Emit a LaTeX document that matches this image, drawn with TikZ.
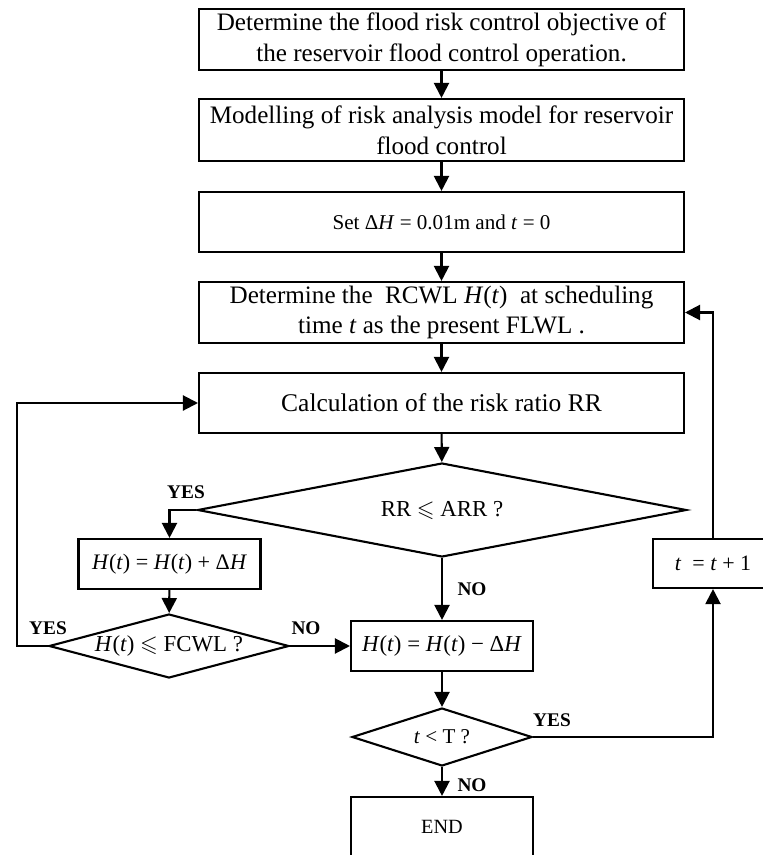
\documentclass[tikz,border=0pt]{standalone}
\usepackage{amsmath,amssymb}
\usepackage{fontspec}
\setmainfont{Liberation Serif}
\usetikzlibrary{shapes.geometric, positioning, arrows.meta, calc}

\begin{document}
\begin{tikzpicture}[
    x=0.02cm, y=-0.02cm,
    line width=1.2pt,
    process/.style={draw, rectangle, minimum width=9.7cm, minimum height=1.2cm, align=center, fill=white, inner sep=2pt, font=\fontsize{14.3}{17.5}\selectfont},
    smallbox/.style={draw, rectangle, minimum width=3.64cm, minimum height=1cm, align=center, fill=white, font=\fontsize{13}{16}\selectfont},
    decision/.style={draw, diamond, inner sep=0pt, align=center, fill=white, font=\fontsize{13}{16}\selectfont},
    arr/.style={-{Triangle[length=0.3cm, width=0.3cm]}},
    answer/.style={font=\fontsize{11}{13}\selectfont\bfseries}
]
    \useasboundingbox (0,0) rectangle (763,855);
    \clip (0,0) rectangle (763,855);

    % --- Main column ---
    \node[process, minimum height=1.18cm] (obj) at (441.5, 39.5) {Determine the flood risk control objective of\\the reservoir flood control operation.};
    \node[process, minimum height=1.24cm] (model) at (441.5, 130) {Modelling of risk analysis model for reservoir\\flood control};
    \node[process, font=\fontsize{12}{14}\selectfont] (setdh) at (441.5, 222) {Set Δ\textit{H} = 0.01m and \textit{t} = 0};
    \node[process, minimum height=1.22cm] (rcwl) at (441.5, 312.5) {Determine the\ \ RCWL \textit{H}(\textit{t})\ \ at scheduling\\time \textit{t} as the present FLWL .};
    \node[process, font=\fontsize{14.5}{17}\selectfont] (calc) at (441.5, 403) {Calculation of the risk ratio RR};

    % --- Decisions ---
    \node[decision, aspect=5.2, minimum width=9.78cm, minimum height=1.88cm] (rrdec) at (442, 510) {RR $\leqslant$ ARR ?};
    \node[decision, aspect=3.75, minimum width=4.8cm, minimum height=1.28cm] (fcwl) at (169, 646) {\textit{H}(\textit{t}) $\leqslant$ FCWL ?};
    \node[decision, aspect=3.1, minimum width=3.6cm, minimum height=1.16cm, font=\fontsize{12}{14}\selectfont] (tdec) at (442, 737) {\textit{t} < T ?};

    % --- Update boxes ---
    \node[smallbox, font=\fontsize{12.6}{15}\selectfont] (plus) at (169.5, 564) {\textit{H}(\textit{t}) = \textit{H}(\textit{t}) + Δ\textit{H}};
    \node[smallbox] (minus) at (442, 646) {\textit{H}(\textit{t}) = \textit{H}(\textit{t}) − Δ\textit{H}};
    \node[smallbox, minimum width=2.4cm, minimum height=0.98cm, font=\fontsize{12.5}{15}\selectfont] (inc) at (713, 563.5) {\textit{t}\ \ = \textit{t} + 1};
    \node[smallbox, minimum height=1.2cm, font=\fontsize{11.5}{14}\selectfont] (endbox) at (442, 827) {END};

    % --- Connections ---
    \draw[arr] (obj) -- (model);
    \draw[arr] (model) -- (setdh);
    \draw[arr] (setdh) -- (rcwl);
    \draw[arr] (rcwl) -- (calc);
    \draw[arr] (calc) -- (rrdec);
    \draw[arr] (rrdec.west) -| (plus.north);
    \draw[arr] (rrdec.south) -- (minus.north);
    \draw[arr] (plus) -- (fcwl);
    \draw[arr] (fcwl.east) -- (minus.west);
    % back to the risk ratio
    \draw[arr] (fcwl.west) -- ++(-31,0) |- (calc.west);
    \draw[arr] (minus) -- (tdec);
    \draw[arr] (tdec) -- (endbox);
    \draw[arr] (tdec.east) -| (inc.south);
    % next scheduling time
    \draw[arr] (inc.north) |- (rcwl.east);

    % --- Labels ---
    \node[answer] (y1) at (186, 492) {YES};
    \node[answer] (y2) at (48, 628) {YES};
    \node[answer] (n1) at (306, 628) {NO};
    \node[answer] (n2) at (472, 589) {NO};
    \node[answer] (y3) at (552, 720) {YES};
    \node[answer] (n3) at (472, 785) {NO};

\end{tikzpicture}
\end{document}
